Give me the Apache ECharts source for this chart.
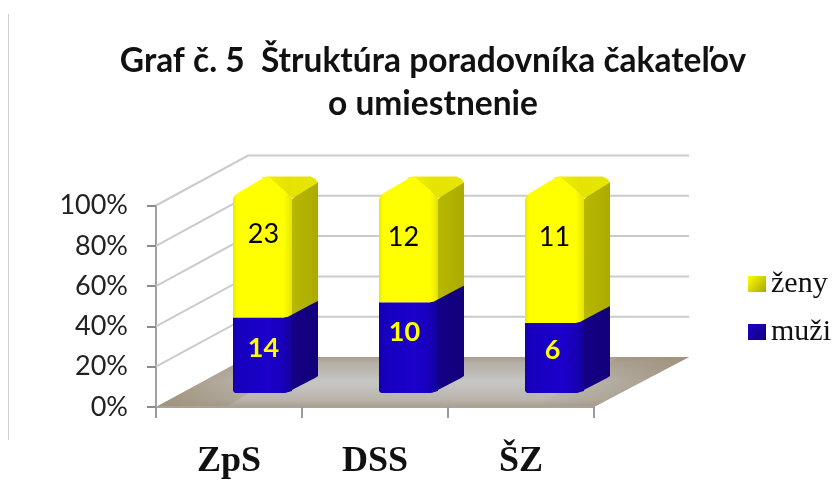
<!DOCTYPE html>
<html><head><meta charset="utf-8">
<style>html,body{margin:0;padding:0;background:#fff}#c{width:836px;height:484px}</style>
<script src="https://cdn.jsdelivr.net/npm/echarts@6/dist/echarts.min.js"></script>
</head><body><div id="c"></div>
<script>
const categories = ['ZpS', 'DSS', 'ŠZ'];
const muzi = [14, 10, 6];
const zeny = [23, 12, 11];
const yTicks = [0, 20, 40, 60, 80, 100];
const titleText = 'Graf č. 5  Štruktúra poradovníka čakateľov\no umiestnenie';

// drawing constants of the pseudo-3D look
const WALL_DX = 92, WALL_DY = 50;
const BAR_W = 59, BAR_DX = 26, BAR_DY = 16, BAR_LIFT = 14, BAR_SHIFT = 4;
const nudge = { muzi: [[1, -7], [-4, -15], [-2, -7]], zeny: [[1, -20], [-5, -9], [0, -19]] };

const hGrad = (stops) => ({ type: 'linear', x: 0, y: 0, x2: 1, y2: 0,
  colorStops: stops.map((c) => ({ offset: c[0], color: c[1] })) });
const vGrad = (stops) => ({ type: 'linear', x: 0, y: 0, x2: 0, y2: 1,
  colorStops: stops.map((c) => ({ offset: c[0], color: c[1] })) });

function renderWall(params, api) {
  const cs = params.coordSys;
  const y = api.coord([0, api.value(1)])[1];
  const x0 = cs.x, x1 = cs.x + WALL_DX, x2 = cs.x + cs.width + 95;
  const children = [];
  if (api.value(1) === 0) {
    children.push({ type: 'polygon',
      shape: { points: [[x0, y], [x1, y - WALL_DY], [x2, y - WALL_DY], [cs.x + cs.width, y]] },
      style: { fill: vGrad([[0, '#a89e8e'], [0.12, '#b4afa6'], [0.5, '#c6c6c4'], [0.85, '#b9b5ad'], [1, '#a89e8e']]) } });
    children.push({ type: 'polygon',
      shape: { points: [[x0, y], [x1, y - WALL_DY], [x1 + 60, y - WALL_DY], [x0 + 70, y]] },
      style: { fill: hGrad([[0, 'rgba(160,146,124,0.95)'], [1, 'rgba(160,146,124,0)']]) } });
    children.push({ type: 'polygon',
      shape: { points: [[cs.x + cs.width, y], [x2, y - WALL_DY], [x2 - 70, y - WALL_DY], [cs.x + cs.width - 60, y]] },
      style: { fill: hGrad([[0, 'rgba(160,146,124,0)'], [1, 'rgba(160,146,124,0.95)']]) } });
    children.push({ type: 'line', shape: { x1: x0, y1: y, x2: cs.x + cs.width, y2: y },
      style: { stroke: '#a8a298', lineWidth: 2 } });
  } else {
    children.push({ type: 'polyline',
      shape: { points: [[x0, y], [x1, y - WALL_DY], [x2, y - WALL_DY]] },
      style: { stroke: '#cbcbcb', lineWidth: 2, fill: 'none' } });
  }
  return { type: 'group', children };
}

function renderSegment(kind) {
  return function (params, api) {
    const i = api.value(0), from = api.value(1), to = api.value(2), n = api.value(3);
    const c = api.coord([i, from]);
    const L = c[0] + BAR_SHIFT, R = L + BAR_W;
    const yb = c[1] - BAR_LIFT;
    const yt = api.coord([i, to])[1] - BAR_LIFT;
    const isBottom = kind === 'muzi';
    const frontFill = isBottom
      ? hGrad([[0, '#1200a8'], [0.06, '#1600bc'], [0.6, '#1c00cc'], [0.82, '#1800bc'], [1, '#14009c']])
      : hGrad([[0, '#e8e800'], [0.07, '#ffff00'], [0.86, '#ffff00'], [1, '#e4e400']]);
    const sideFill = isBottom
      ? hGrad([[0, '#150088'], [1, '#12007a']])
      : hGrad([[0, '#b8b800'], [1, '#abab00']]);
    const children = [];
    if (isBottom) {
      children.push({ type: 'polygon', shape: { points: [
        [R - 8, yb], [R - 4, yb - 1], [R + BAR_DX - 3, yb - BAR_DY + 1], [R + BAR_DX, yb - BAR_DY - 1],
        [R + BAR_DX, yt - BAR_DY], [R - 4, yt], [R - 8, yt + 1]] }, style: { fill: sideFill } });
      children.push({ type: 'polygon', shape: { points: [
        [L, yb - 2], [L + 2, yb], [R - 8, yb], [R - 4, yb - 1], [R, yb - 2], [R, yt], [R - 8, yt + 1], [L, yt + 1]] },
        style: { fill: frontFill } });
    } else {
      const T = yt;
      children.push({ type: 'polygon', shape: { points: [
        [R, yb], [R + BAR_DX, yb - BAR_DY], [R + BAR_DX, T - 9], [R + BAR_DX - 8, T - 15],
        [R + BAR_DX - 24, T + 6], [R, T + 8]] }, style: { fill: sideFill } });
      // top face, soft darker part
      children.push({ type: 'polygon', shape: { points: [
        [L + 28, T - 14], [L + 34, T - 15], [R + BAR_DX - 8, T - 15], [R + BAR_DX - 3, T - 13], [R + BAR_DX, T - 9],
        [R, T + 7], [L + 50, T - 2]] }, style: { fill: hGrad([[0, '#f4f400'], [0.45, '#e4e400'], [1, '#e6e600']]) } });
      // front face with the bright chamfer
      children.push({ type: 'polygon', shape: { points: [
        [L, yb + 1], [L, T + 8], [L + 1, T + 5], [L + 4, T + 2], [L + 26, T - 11], [L + 31, T - 14], [L + 35, T - 15],
        [L + 50, T - 2], [R, T + 7], [R, yb - 1], [R - 8, yb + 1]] },
        style: { fill: frontFill } });
    }
    const mid = (yb + yt) / 2;
    const nd = nudge[kind][i];
    children.push({ type: 'text', style: {
      text: String(n), x: (L + R) / 2 + nd[0], y: mid + nd[1], align: 'center', verticalAlign: 'middle',
      font: (isBottom ? 'bold ' : '') + '27px Lato', fill: isBottom ? '#ffff00' : '#000000' }, z2: 10 });
    return { type: 'group', children };
  };
}

const muziData = categories.map((c, i) => [i, 0, 100 * muzi[i] / (muzi[i] + zeny[i]), muzi[i]]);
const zenyData = categories.map((c, i) => [i, 100 * muzi[i] / (muzi[i] + zeny[i]), 100, zeny[i]]);
const wallData = yTicks.map(t => [0, t]);

const chart = echarts.init(document.getElementById('c'), null, { renderer: 'canvas' });
chart.setOption({
  animation: false,
  backgroundColor: '#ffffff',
  title: { text: titleText, left: 428, top: 35, textAlign: 'center',
    textStyle: { fontFamily: 'Lato', fontWeight: 'bold', fontSize: 33.5, lineHeight: 43, color: '#111' } },
  legend: { orient: 'vertical', left: 748, top: 269, padding: 0, itemWidth: 18, itemHeight: 16, itemGap: 18,
    selectedMode: false, icon: 'rect',
    textStyle: { fontFamily: 'Liberation Serif', fontSize: 30, color: '#111' },
    data: [
      { name: 'ženy', itemStyle: { color: { type: 'linear', x: 0, y: 0, x2: 1, y2: 1,
        colorStops: [{ offset: 0, color: '#ffff00' }, { offset: 1, color: '#a8a800' }] } } },
      { name: 'muži', itemStyle: { color: { type: 'linear', x: 0, y: 0, x2: 1, y2: 1,
        colorStops: [{ offset: 0, color: '#1c00cc' }, { offset: 1, color: '#12007a' }] } } }
    ] },
  grid: { left: 156, top: 205.5, width: 438, height: 201.5, containLabel: false },
  xAxis: { type: 'category', data: categories, z: 3,
    axisLine: { show: false },
    axisTick: { show: true, length: 11, lineStyle: { color: '#9a9a9a', width: 2 } },
    axisLabel: { margin: 37, fontFamily: 'Liberation Serif', fontWeight: 'bold', fontSize: 36, color: '#111', interval: 0 } },
  yAxis: { type: 'value', min: 0, max: 100, interval: 20,
    axisLine: { show: true, lineStyle: { color: '#a0a0a0', width: 2 } },
    axisTick: { show: true, length: 9, lineStyle: { color: '#8c8c8c', width: 2 } },
    splitLine: { show: false },
    axisLabel: { margin: 28, formatter: '{value}%', fontFamily: 'Lato', fontSize: 27, color: '#222' } },
  graphic: [{ type: 'line', shape: { x1: 8.5, y1: 14, x2: 8.5, y2: 440 }, style: { stroke: '#d0d0d0', lineWidth: 1 } }],
  series: [
    { type: 'custom', name: 'steny', renderItem: renderWall, data: wallData, z: 1, clip: false, silent: true,
      encode: { x: 0, y: 1 } },
    { type: 'custom', name: 'muži', renderItem: renderSegment('muzi'), data: muziData, z: 3, clip: false,
      encode: { x: 0, y: [1, 2] }, itemStyle: { color: '#1600bc' } },
    { type: 'custom', name: 'ženy', renderItem: renderSegment('zeny'), data: zenyData, z: 2, clip: false,
      encode: { x: 0, y: [1, 2] }, itemStyle: { color: '#ffff00' } }
  ]
});
</script></body></html>
